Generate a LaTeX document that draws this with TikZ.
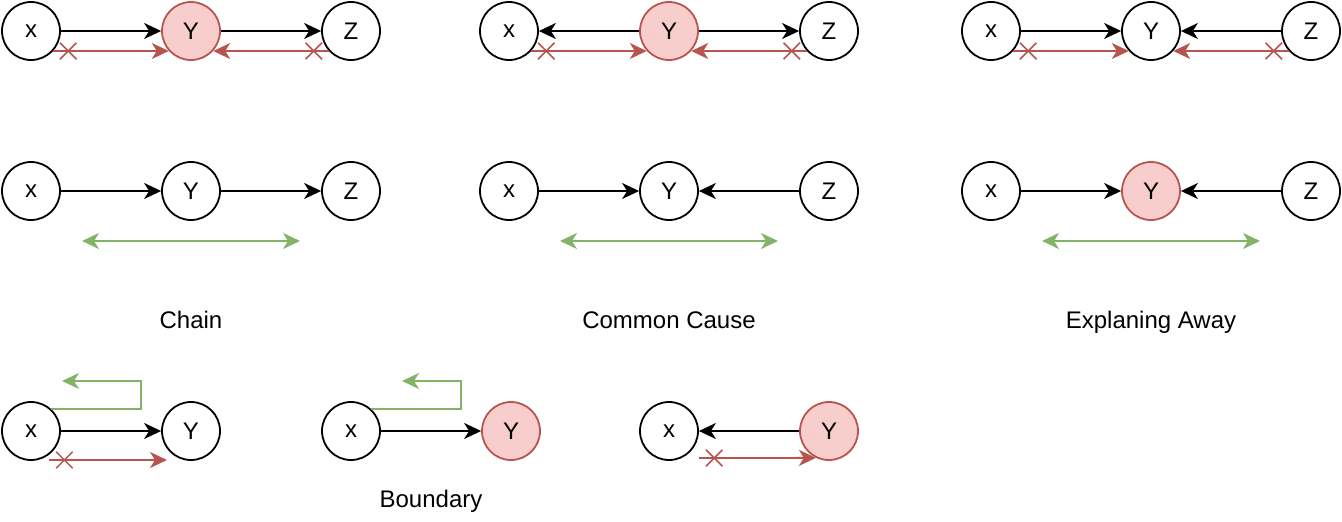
\documentclass[tikz,border=0pt]{standalone}
\usepackage{fontspec}
\setmainfont{Liberation Sans}
\usetikzlibrary{arrows.meta,shapes.misc}

\definecolor{redline}{HTML}{B85450}
\definecolor{redfill}{HTML}{F8CECC}
\definecolor{greenline}{HTML}{82B366}

\tikzset{
  var/.style={circle, draw, line width=1.8pt, minimum size=58pt, inner sep=0pt,
    font=\fontsize{24}{28}\selectfont},
  obs/.style={var, draw=redline, fill=redfill},
  dep/.style={line width=1.8pt, -{Stealth[length=17pt,width=16pt,inset=5pt]}},
  blocked/.style={line width=1.8pt, draw=redline,
    -{Stealth[length=17pt,width=16pt,inset=5pt,redline]}},
  flow/.style={line width=1.8pt, draw=greenline,
    {Stealth[length=17pt,width=16pt,inset=5pt,greenline]}-{Stealth[length=17pt,width=16pt,inset=5pt,greenline]}},
  back/.style={line width=1.8pt, draw=greenline,
    -{Stealth[length=17pt,width=16pt,inset=5pt,greenline]}},
  nogo/.style={cross out, draw=redline, line width=1.5pt, minimum size=15pt, inner sep=0pt},
  caption/.style={anchor=base, font=\fontsize{24}{28}\selectfont}
}

\begin{document}
\begin{tikzpicture}[x=1pt, y=-1pt]
    \useasboundingbox (0,0) rectangle (1342,522);

    % chain
    \node[var] (cx1) at (31,31) {x};
    \node[obs] (cy1) at (191,31) {Y};
    \node[var] (cz1) at (351,31) {Z};
    \draw[dep] (cx1) -- (cy1);
    \draw[dep] (cy1) -- (cz1);
    \draw[blocked] (cx1.-42) -- node[nogo, pos=0.13] {} (cy1.222);
    \draw[blocked] (cz1.222) -- node[nogo, pos=0.13] {} (cy1.-42);

    \node[var] (cx2) at (31,191) {x};
    \node[var] (cy2) at (191,191) {Y};
    \node[var] (cz2) at (351,191) {Z};
    \draw[dep] (cx2) -- (cy2);
    \draw[dep] (cy2) -- (cz2);
    \coordinate (cl) at (82,241);
    \coordinate (cr) at (300,241);
    \draw[flow] (cl) -- (cr);

    \node[caption] (chain) at (191,328) {Chain};

    % common cause
    \node[var] (kx1) at (509,31) {x};
    \node[obs] (ky1) at (669,31) {Y};
    \node[var] (kz1) at (829,31) {Z};
    \draw[dep] (ky1) -- (kx1);
    \draw[dep] (ky1) -- (kz1);
    \draw[blocked] (kx1.-42) -- node[nogo, pos=0.13] {} (ky1.222);
    \draw[blocked] (kz1.222) -- node[nogo, pos=0.13] {} (ky1.-42);

    \node[var] (kx2) at (509,191) {x};
    \node[var] (ky2) at (669,191) {Y};
    \node[var] (kz2) at (829,191) {Z};
    \draw[dep] (kx2) -- (ky2);
    \draw[dep] (kz2) -- (ky2);
    \coordinate (kl) at (560,241);
    \coordinate (kr) at (778,241);
    \draw[flow] (kl) -- (kr);

    \node[caption] (common) at (669,328) {Common Cause};

    % explaining away
    \node[var] (ex1) at (991,31) {x};
    \node[var] (ey1) at (1151,31) {Y};
    \node[var] (ez1) at (1311,31) {Z};
    \draw[dep] (ex1) -- (ey1);
    \draw[dep] (ez1) -- (ey1);
    \draw[blocked] (ex1.-42) -- node[nogo, pos=0.13] {} (ey1.222);
    \draw[blocked] (ez1.222) -- node[nogo, pos=0.13] {} (ey1.-42);

    \node[var] (ex2) at (991,191) {x};
    \node[obs] (ey2) at (1151,191) {Y};
    \node[var] (ez2) at (1311,191) {Z};
    \draw[dep] (ex2) -- (ey2);
    \draw[dep] (ez2) -- (ey2);
    \coordinate (el) at (1042,241);
    \coordinate (er) at (1260,241);
    \draw[flow] (el) -- (er);

    \node[caption] (explain) at (1151,328) {Explaning Away};

    % boundary
    \node[var] (bx1) at (31,431) {x};
    \node[var] (by1) at (191,431) {Y};
    \draw[dep] (bx1) -- (by1);
    \coordinate (g1a) at (141,381);
    \coordinate (g1b) at (62,381);
    \draw[back] (bx1.47) -| (g1a) -- (g1b);
    \coordinate (r1a) at (49,460);
    \coordinate (r1b) at (167,460);
    \draw[blocked] (r1a) -- node[nogo, pos=0.13] {} (r1b);

    \node[var] (bx2) at (351,431) {x};
    \node[obs] (by2) at (511,431) {Y};
    \draw[dep] (bx2) -- (by2);
    \coordinate (g2a) at (461,381);
    \coordinate (g2b) at (402,381);
    \draw[back] (bx2.47) -| (g2a) -- (g2b);

    \node[var] (bx3) at (669,431) {x};
    \node[obs] (by3) at (829,431) {Y};
    \draw[dep] (by3) -- (bx3);
    \coordinate (r3a) at (699,458);
    \draw[blocked] (r3a) -- node[nogo, pos=0.13] {} (by3.244);

    \node[caption] (boundary) at (431,507) {Boundary};
\end{tikzpicture}
\end{document}
